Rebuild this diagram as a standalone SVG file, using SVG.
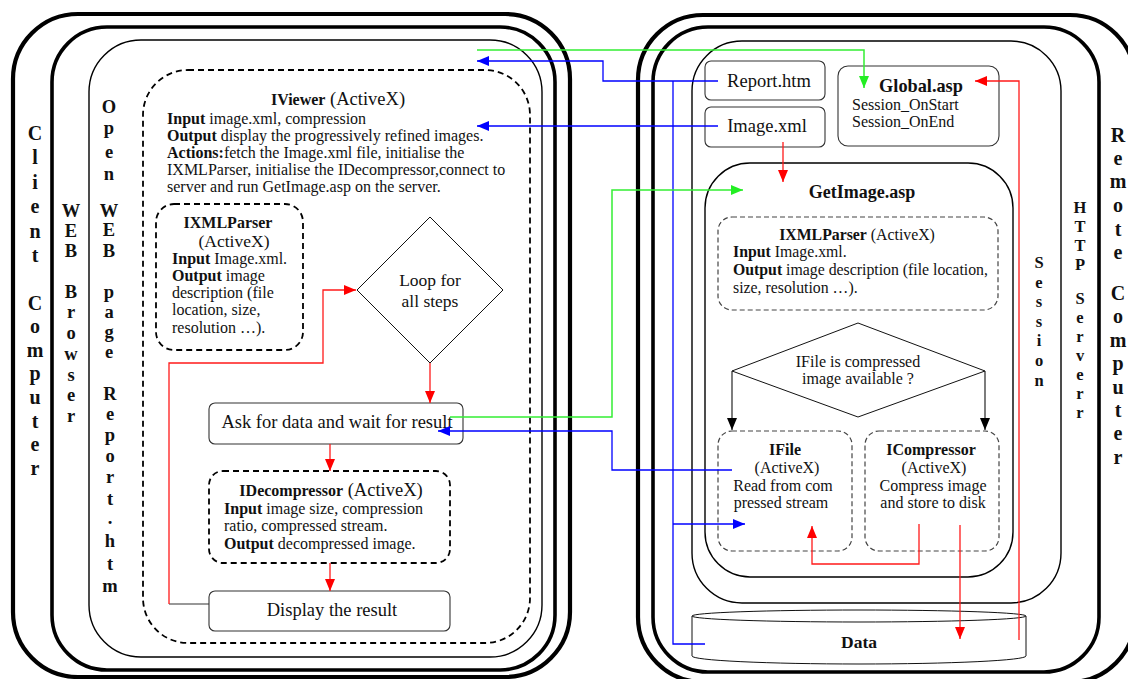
<svg xmlns="http://www.w3.org/2000/svg" width="1128" height="679" viewBox="0 0 1128 679">
<defs>
<style>
text{font-family:"Liberation Serif","Times New Roman",serif;fill:#111}
.t16{font-size:16px}
.t18{font-size:18.5px}
.b{font-weight:bold}
.vl{font-weight:bold;text-anchor:middle}
.outer{fill:none;stroke:#000;stroke-width:4.2}
.mid{fill:none;stroke:#000;stroke-width:3.6}
.thin{fill:none;stroke:#000;stroke-width:1.4}
.dash{fill:none;stroke:#000;stroke-width:1.8;stroke-dasharray:6 4}
.dash2{fill:none;stroke:#444;stroke-width:1.2;stroke-dasharray:5 3}
.box{fill:#fff;stroke:#333;stroke-width:1.1}
.dia{fill:#fff;stroke:#111;stroke-width:1}
.red{fill:none;stroke:#ff1a1a;stroke-width:1.3}
.blue{fill:none;stroke:#0000ff;stroke-width:1.3}
.green{fill:none;stroke:#33ee33;stroke-width:1.5}
.blk{fill:none;stroke:#111;stroke-width:1.1}
</style>
<marker id="ar" markerUnits="userSpaceOnUse" markerWidth="12" markerHeight="10" refX="12" refY="5" orient="auto"><path d="M0,0L12,5L0,10z" fill="#ff0000"/></marker>
<marker id="ab" markerUnits="userSpaceOnUse" markerWidth="12" markerHeight="10" refX="12" refY="5" orient="auto"><path d="M0,0L12,5L0,10z" fill="#0000ff"/></marker>
<marker id="ag" markerUnits="userSpaceOnUse" markerWidth="12" markerHeight="10" refX="12" refY="5" orient="auto"><path d="M0,0L12,5L0,10z" fill="#22ee22"/></marker>
<marker id="ak" markerUnits="userSpaceOnUse" markerWidth="12" markerHeight="10" refX="12" refY="5" orient="auto"><path d="M0,0L12,5L0,10z" fill="#000"/></marker>
</defs>
<rect width="1128" height="679" fill="#fff"/>

<!-- Client side containers -->
<g id="client-computer">
<rect class="outer" x="13" y="14" width="557" height="663" rx="65"/>
<text class="vl" font-family="Liberation Serif, serif" font-size="20"><tspan x="35" y="140">C</tspan><tspan x="35" y="164">l</tspan><tspan x="35" y="189">i</tspan><tspan x="35" y="213">e</tspan><tspan x="35" y="238">n</tspan><tspan x="35" y="262">t</tspan><tspan x="35" y="310">C</tspan><tspan x="35" y="333">o</tspan><tspan x="35" y="357">m</tspan><tspan x="35" y="380">p</tspan><tspan x="35" y="404">u</tspan><tspan x="35" y="428">t</tspan><tspan x="35" y="451">e</tspan><tspan x="35" y="475">r</tspan></text>
</g>
<g id="web-browser">
<rect class="mid" x="52" y="27" width="503" height="643" rx="55"/>
<text class="vl" font-family="Liberation Serif, serif" font-size="18.5"><tspan x="71" y="217">W</tspan><tspan x="71" y="237">E</tspan><tspan x="71" y="257">B</tspan><tspan x="71" y="298">B</tspan><tspan x="71" y="318">r</tspan><tspan x="71" y="339">o</tspan><tspan x="71" y="360">w</tspan><tspan x="71" y="381">s</tspan><tspan x="71" y="401">e</tspan><tspan x="71" y="422">r</tspan></text>
</g>
<g id="web-page">
<rect class="thin" x="89" y="40" width="453" height="617" rx="52"/>
<text class="vl" font-family="Liberation Serif, serif" font-size="18.5"><tspan x="109" y="113">O</tspan><tspan x="109" y="134">p</tspan><tspan x="109" y="158">e</tspan><tspan x="109" y="180">n</tspan><tspan x="109" y="217">W</tspan><tspan x="109" y="236">E</tspan><tspan x="109" y="257">B</tspan><tspan x="109" y="298">p</tspan><tspan x="109" y="318">a</tspan><tspan x="109" y="338">g</tspan><tspan x="109" y="358">e</tspan><tspan x="110" y="400">R</tspan><tspan x="110" y="420">e</tspan><tspan x="110" y="441">p</tspan><tspan x="110" y="462">o</tspan><tspan x="110" y="483">r</tspan><tspan x="110" y="505">t</tspan><tspan x="110" y="524">.</tspan><tspan x="110" y="547">h</tspan><tspan x="110" y="570">t</tspan><tspan x="110" y="592">m</tspan></text>
</g>
<g id="iviewer">
<rect class="dash" x="143" y="70" width="387" height="573" rx="45"/>
<text x="338" y="105" text-anchor="middle"><tspan class="b t16">IViewer</tspan><tspan class="t18"> (ActiveX)</tspan></text>
<text class="t16" x="167" y="124"><tspan class="b">Input</tspan> image.xml, compression</text>
<text class="t16" x="167" y="141"><tspan class="b">Output</tspan> display the progressively refined images.</text>
<text class="t16" x="167" y="158"><tspan class="b">Actions:</tspan>fetch the Image.xml file, initialise the</text>
<text class="t16" x="167" y="175">IXMLParser, initialise the IDecompressor,connect to</text>
<text class="t16" x="167" y="192">server and run GetImage.asp on the server.</text>
</g>
<g id="ixmlparser-client">
<rect class="dash" x="156" y="204" width="147" height="146" rx="18"/>
<text class="t16 b" x="228" y="228" text-anchor="middle">IXMLParser</text>
<text x="234" y="247" text-anchor="middle" font-size="17.5">(ActiveX)</text>
<text class="t16" x="172" y="264"><tspan class="b">Input</tspan> Image.xml.</text>
<text class="t16" x="172" y="281"><tspan class="b">Output</tspan> image</text>
<text class="t16" x="172" y="298">description (file</text>
<text class="t16" x="172" y="315">location, size,</text>
<text class="t16" x="172" y="333">resolution …).</text>
</g>
<g id="loop">
<polygon class="dia" points="430,217 503,290 430,363 357,290"/>
<text x="430" y="286" text-anchor="middle" font-size="17.5">Loop for</text>
<text x="430" y="307" text-anchor="middle" font-size="17.5">all steps</text>
</g>
<g id="ask">
<rect class="box" x="209" y="403" width="254" height="41" rx="6"/>
<text class="t18" x="337" y="428" text-anchor="middle">Ask for data and wait for result</text>
</g>
<g id="idecompressor">
<rect class="dash" x="209" y="471" width="241" height="92" rx="14"/>
<text x="331" y="496" text-anchor="middle"><tspan class="b t16">IDecompressor</tspan><tspan class="t18"> (ActiveX)</tspan></text>
<text class="t16" x="224" y="514"><tspan class="b">Input</tspan> image size, compression</text>
<text class="t16" x="224" y="531">ratio, compressed stream.</text>
<text class="t16" x="224" y="549"><tspan class="b">Output</tspan> decompressed image.</text>
</g>
<g id="display">
<rect class="box" x="209" y="591" width="241" height="40" rx="6"/>
<text class="t18" x="332" y="616" text-anchor="middle">Display the result</text>
</g>

<!-- Server side containers -->
<g id="remote-computer">
<rect class="outer" x="638" y="15" width="497" height="667" rx="65"/>
<text class="vl" font-family="Liberation Serif, serif" font-size="20"><tspan x="1118" y="142">R</tspan><tspan x="1118" y="165">e</tspan><tspan x="1118" y="188">m</tspan><tspan x="1118" y="212">o</tspan><tspan x="1118" y="236">t</tspan><tspan x="1118" y="259">e</tspan><tspan x="1118" y="300">C</tspan><tspan x="1118" y="323">o</tspan><tspan x="1118" y="347">m</tspan><tspan x="1118" y="370">p</tspan><tspan x="1118" y="394">u</tspan><tspan x="1118" y="417">t</tspan><tspan x="1118" y="440">e</tspan><tspan x="1118" y="464">r</tspan></text>
</g>
<g id="http-server">
<rect class="mid" x="653" y="27" width="446" height="645" rx="55"/>
<text class="vl" font-family="Liberation Serif, serif" font-size="16.5"><tspan x="1080" y="213">H</tspan><tspan x="1080" y="232">T</tspan><tspan x="1080" y="251">T</tspan><tspan x="1080" y="270">P</tspan><tspan x="1080" y="304">S</tspan><tspan x="1080" y="323">e</tspan><tspan x="1080" y="342">r</tspan><tspan x="1080" y="361">v</tspan><tspan x="1080" y="380">e</tspan><tspan x="1080" y="399">r</tspan><tspan x="1080" y="418">r</tspan></text>
</g>
<g id="session">
<rect class="thin" x="692" y="41" width="369" height="562" rx="50"/>
<text class="vl" font-family="Liberation Serif, serif" font-size="16.5"><tspan x="1039" y="268">S</tspan><tspan x="1039" y="288">e</tspan><tspan x="1039" y="307">s</tspan><tspan x="1039" y="327">s</tspan><tspan x="1039" y="346">i</tspan><tspan x="1039" y="366">o</tspan><tspan x="1039" y="386">n</tspan></text>
</g>
<g id="report-htm">
<rect class="box" x="705" y="61" width="120" height="39" rx="6"/>
<text class="t18" x="769" y="87" text-anchor="middle">Report.htm</text>
</g>
<g id="image-xml">
<rect class="box" x="705" y="107" width="120" height="40" rx="6"/>
<text class="t18" x="767" y="132" text-anchor="middle">Image.xml</text>
</g>
<g id="global-asp">
<rect class="box" x="838" y="66" width="161" height="80" rx="10"/>
<text class="b" x="921" y="92" text-anchor="middle" font-size="18.3">Global.asp</text>
<text class="t16" x="852" y="110">Session_OnStart</text>
<text class="t16" x="852" y="127">Session_OnEnd</text>
</g>
<g id="getimage-asp">
<rect class="thin" x="705" y="163" width="308" height="414" rx="45" stroke-width="1.2"/>
<text class="b" x="862" y="198" text-anchor="middle" font-size="18">GetImage.asp</text>
</g>
<g id="ixmlparser-server">
<rect class="dash2" x="718" y="217" width="280" height="93" rx="14"/>
<text x="857" y="240" text-anchor="middle" font-size="15.8"><tspan class="b">IXMLParser</tspan> (ActiveX)</text>
<text x="733" y="257" font-size="15.8"><tspan class="b">Input</tspan> Image.xml.</text>
<text x="733" y="275" font-size="15.8"><tspan class="b">Output</tspan> image description (file location,</text>
<text x="733" y="293" font-size="15.8">size, resolution …).</text>
</g>
<g id="cache-check">
<polygon class="dia" points="858,323 985,371 858,417 732,371"/>
<text class="t16" x="858" y="367" text-anchor="middle">IFile is compressed</text>
<text class="t16" x="858" y="384" text-anchor="middle">image available ?</text>
</g>
<g id="ifile">
<rect class="dash2" x="718" y="431" width="134" height="120" rx="14"/>
<text class="t16 b" x="785" y="455" text-anchor="middle">IFile</text>
<text class="t16" x="787" y="473" text-anchor="middle">(ActiveX)</text>
<text class="t16" x="783" y="491" text-anchor="middle">Read from com</text>
<text class="t16" x="781" y="508" text-anchor="middle">pressed stream</text>
</g>
<g id="icompressor">
<rect class="dash2" x="865" y="431" width="134" height="120" rx="14"/>
<text class="t16 b" x="931" y="455" text-anchor="middle">ICompressor</text>
<text class="t16" x="934" y="473" text-anchor="middle">(ActiveX)</text>
<text class="t16" x="933" y="491" text-anchor="middle">Compress image</text>
<text class="t16" x="933" y="508" text-anchor="middle">and store to disk</text>
</g>
<g id="data">
<path d="M692,616 L692,656 A167,8 0 0 0 1026,656 L1026,616" fill="#fff" stroke="#111" stroke-width="1"/>
<ellipse cx="859" cy="616" rx="167" ry="6" fill="#fff" stroke="#111" stroke-width="1"/>
<text class="b" x="859" y="648" text-anchor="middle" font-size="17.5">Data</text>
</g>

<!-- Connectors -->
<g id="connectors">
<polyline class="blk" points="732,371 732,430" marker-end="url(#ak)"/>
<polyline class="blk" points="985,371 985,430" marker-end="url(#ak)"/>

<polyline class="red" points="430,363 430,403" marker-end="url(#ar)"/>
<polyline class="red" points="330,444 330,471" marker-end="url(#ar)"/>
<polyline class="red" points="330,563 330,591" marker-end="url(#ar)"/>
<polyline fill="none" stroke="#333" stroke-width="1.2" points="209,604 169,604"/>
<polyline class="red" points="169,604 169,363 323,363 323,290 356,290" marker-end="url(#ar)"/>

<polyline class="red" points="783,142 783,182" marker-end="url(#ar)"/>
<polyline class="red" points="919,524 919,564 812,564 812,526" marker-end="url(#ar)"/>
<polyline class="red" points="960,525 960,639" marker-end="url(#ar)"/>
<polyline class="red" points="1019,640 1019,81 975,81" marker-end="url(#ar)"/>

<polyline class="blue" points="718,81 603,81 603,61 477,61" marker-end="url(#ab)"/>
<polyline class="blue" points="673,81 673,644 705,644"/>
<polyline class="blue" points="673,524 745,524" marker-end="url(#ab)"/>
<polyline class="blue" points="718,126 477,126" marker-end="url(#ab)"/>
<polyline class="blue" points="732,470 612,470 612,431 438,431" marker-end="url(#ab)"/>

<polyline class="green" points="477,50 864,50 864,88" marker-end="url(#ag)"/>
<polyline class="green" points="450,417 612,417 612,190 743,190" marker-end="url(#ag)"/>
</g>
</svg>
